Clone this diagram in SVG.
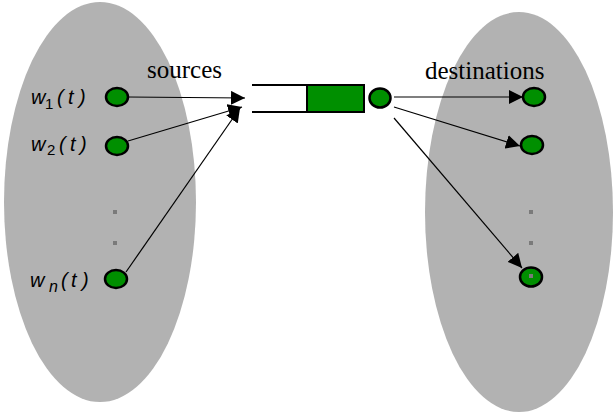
<svg xmlns="http://www.w3.org/2000/svg" width="614" height="416" viewBox="0 0 614 416">
<style>
.node{fill:#008f00;stroke:#000;stroke-width:2.5}
.dot{fill:#7a7a7a}
.lbl{font-family:"Liberation Serif",serif;font-size:25px;fill:#000}
.w{font-family:"Liberation Sans",sans-serif;font-size:20px;font-style:italic;fill:#000}
.sub{font-family:"Liberation Sans",sans-serif;font-size:15px;fill:#000}
.edge{stroke:#000;stroke-width:1.2;fill:none;marker-end:url(#ah)}
</style>
<defs>
<marker id="ah" viewBox="0 0 10 10" refX="10" refY="5" markerWidth="14" markerHeight="14" markerUnits="userSpaceOnUse" orient="auto"><path d="M0,0L10,5L0,10z" fill="#000"/></marker>
</defs>
<g id="sources-group">
<ellipse cx="100" cy="202" rx="96" ry="200" fill="#b2b2b2"/>
</g>
<g id="destinations-group">
<ellipse cx="519" cy="212" rx="94" ry="200" fill="#b2b2b2"/>
</g>
<g id="labels">
<text class="lbl" x="147" y="78">sources</text>
<text class="lbl" x="425" y="79">destinations</text>
</g>
<g id="w1"><text class="w" x="31" y="104">w</text><text class="sub" x="45" y="109">1</text><text class="w" x="57" y="104">(</text><text class="w" x="68" y="104">t</text><text class="w" x="79" y="104">)</text><ellipse class="node" cx="117" cy="97" rx="11" ry="9"/></g>
<g id="w2"><text class="w" x="31" y="151">w</text><text class="sub" x="47" y="155">2</text><text class="w" x="59" y="151">(</text><text class="w" x="70" y="151">t</text><text class="w" x="80" y="151">)</text><ellipse class="node" cx="117" cy="146" rx="11" ry="9"/></g>
<g id="wn"><text class="w" x="30" y="287">w</text><text class="w" x="49" y="292" style="font-size:16px">n</text><text class="w" x="61" y="287">(</text><text class="w" x="71" y="287">t</text><text class="w" x="82" y="287">)</text><ellipse class="node" cx="116" cy="279" rx="11" ry="9"/></g>
<g id="src-dots"><rect class="dot" x="113" y="210" width="4" height="4"/><rect class="dot" x="113" y="241" width="4" height="4"/></g>
<g id="queue">
<path d="M252,85H365M252,112H365" stroke="#000" stroke-width="2" fill="none"/>
<rect x="307" y="85" width="57" height="27" fill="#008f00" stroke="#000" stroke-width="2"/>
</g>
<g id="server"><ellipse class="node" cx="380" cy="98" rx="10.5" ry="9.5"/></g>
<g id="d1"><ellipse class="node" cx="534" cy="97" rx="11" ry="9"/></g>
<g id="d2"><ellipse class="node" cx="532" cy="145" rx="11" ry="9"/></g>
<g id="dn"><ellipse class="node" cx="531" cy="277" rx="11" ry="9.5"/><rect class="dot" x="529" y="274" width="4" height="4"/></g>
<g id="dst-dots"><rect class="dot" x="529" y="210" width="4" height="4"/><rect class="dot" x="529" y="241" width="4" height="4"/></g>
<g id="connectors">
<line class="edge" x1="128" y1="97" x2="245" y2="98"/>
<line class="edge" x1="128" y1="141" x2="242" y2="107"/>
<line class="edge" x1="126" y1="272" x2="240" y2="108"/>
<line class="edge" x1="394" y1="97" x2="523" y2="97"/>
<line class="edge" x1="394" y1="107" x2="520" y2="146"/>
<line class="edge" x1="394" y1="118" x2="522" y2="268"/>
</g>
</svg>
